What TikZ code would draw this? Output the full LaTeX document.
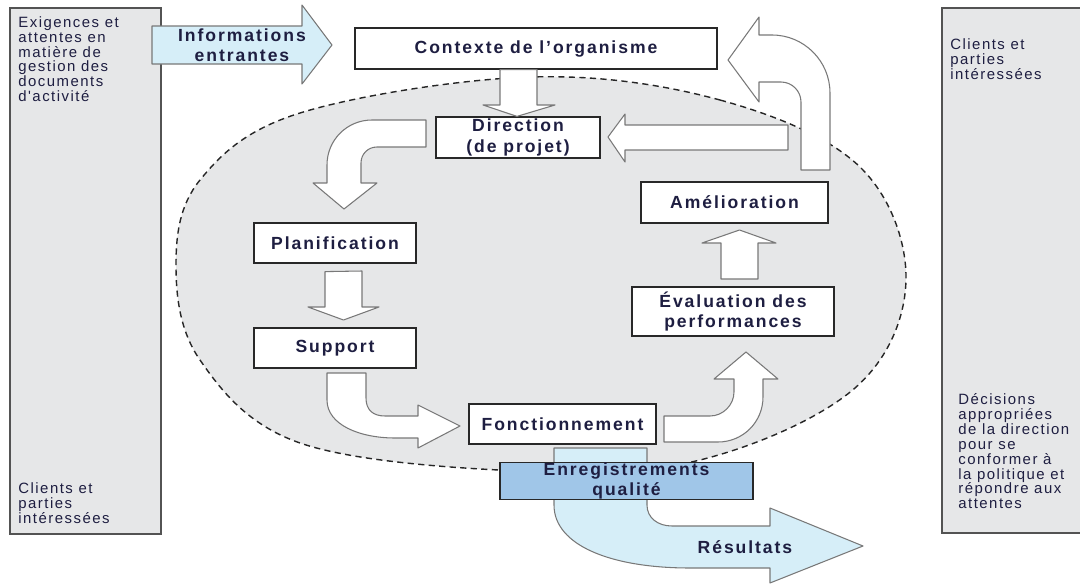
\documentclass[tikz,border=0pt]{standalone}
\usepackage{fontspec}
\setmainfont{Liberation Sans}
\newfontfamily\lblfont[LetterSpace=11]{Liberation Sans}
\newfontfamily\sidefont[LetterSpace=10]{Liberation Sans}
\usetikzlibrary{arrows.meta}
\definecolor{ink}{RGB}{30,30,65}
\definecolor{boxline}{RGB}{40,40,40}
\definecolor{arrline}{RGB}{120,120,120}
\definecolor{zone}{RGB}{230,231,232}
\definecolor{paleblue}{RGB}{214,238,248}
\definecolor{recblue}{RGB}{160,198,232}

\begin{document}
\begin{tikzpicture}[
    x=0.02cm, y=-0.02cm,
    box/.style={draw=boxline, fill=white, line width=0.7pt, text=ink, align=center, inner sep=0pt,
      font=\lblfont\bfseries\fontsize{10}{11.5}\selectfont},
    side/.style={draw=boxline!80, fill=zone, line width=0.8pt, inner sep=0pt},
    sidetext/.style={text=ink, align=left, inner sep=0pt, anchor=north west,
      font=\sidefont\fontsize{8.5}{8.5}\selectfont},
    blk/.style={draw=arrline, fill=white, line width=0.6pt, line join=round},
    flow/.style={draw=arrline, fill=paleblue, line width=0.6pt, line join=round},
    lbl/.style={text=ink, inner sep=0pt, font=\lblfont\bfseries\fontsize{10}{11.5}\selectfont, align=center},
  ]
  \useasboundingbox (0,0) rectangle (1080,585);
  \clip (0,0) rectangle (1080,585);

  % side panels
  \node[side, minimum width=3.02cm, minimum height=10.52cm] (lbox) at (85.5,271) {};
  \node[side, minimum width=2.96cm, minimum height=10.5cm] (rbox) at (1016,270.5) {};
  \node[sidetext] (ltop) at (18,16) {Exigences et\\attentes en\\matière de\\gestion des\\documents\\d'activité};
  \node[sidetext] (lbot) at (18,482) {Clients et\\parties\\intéressées};
  \node[sidetext] (rtop) at (950,38) {Clients et\\parties\\intéressées};
  \node[sidetext] (rbot) at (958,393) {Décisions\\appropriées\\de la direction\\pour se\\conformer à\\la politique et\\répondre aux\\attentes};

  % dashed zone
  \draw[fill=zone, draw=black!85, line width=0.8pt, dash pattern=on 3.5pt off 2.5pt]
    plot[smooth cycle, tension=0.6] coordinates {(530,77) (720,100) (860,167) (906,280) (855,388)
      (700,460) (520,471) (300,443) (200,360) (176,265) (200,180) (300,113)};

  % process boxes
  \node[box, minimum width=7.24cm, minimum height=0.82cm] (ctx) at (536,48.5) {Contexte de l’organisme};
  \node[box, minimum width=3.28cm, minimum height=0.82cm] (dir) at (518,137.5) {Direction\\(de projet)};
  \node[box, minimum width=3.24cm, minimum height=0.8cm] (plan) at (335,243) {Planification};
  \node[box, minimum width=3.24cm, minimum height=0.8cm] (supp) at (335,348) {Support};
  \node[box, minimum width=3.74cm, minimum height=0.8cm] (fonc) at (562.5,424) {Fonctionnement};
  \node[box, minimum width=4.04cm, minimum height=0.98cm] (eval) at (733,311.5) {Évaluation des\\performances};
  \node[box, minimum width=3.74cm, minimum height=0.82cm] (amel) at (734.5,202.5) {Amélioration};

  % block arrows
  \draw[blk] (500,0 |- ctx.south) -- (500,105) -- (483,105) -- (517,0 |- dir.north) -- (555,105)
    -- (537,105) -- (537,0 |- ctx.south) -- cycle;
  \draw[blk] (788,125) -- (625,125) -- (625,114) -- (608,137) -- (625,162) -- (625,150) -- (788,150) -- cycle;
  \draw[blk] (426,120) -- (372,120) .. controls (347,120) and (327,140) .. (327,165) -- (327,183)
    -- (313,183) -- (344,209) -- (377,183) -- (361,183) -- (361,163)
    .. controls (361,154) and (368,147) .. (377,147) -- (426,147) -- cycle;
  \draw[blk] (325,0 |- plan.south) ++(0,8) -- (325,307) -- (308,307) -- (343.5,320) -- (379,307)
    -- (362,307) -- (362,271) -- cycle;
  \draw[blk] (327,373) -- (327,400) .. controls (327,425) and (360,438) .. (395,438) -- (418,438)
    -- (418,448) -- (460,426) -- (418,405) -- (418,416) -- (385,416)
    .. controls (373,416) and (366,410) .. (366,398) -- (366,373) -- cycle;
  \draw[blk] (664,416) -- (710,416) .. controls (723,416) and (734,405) .. (734,392) -- (734,379)
    -- (714,379) -- (746,352) -- (778,379) -- (763,379) -- (763,397)
    .. controls (763,422) and (743,442) .. (718,442) -- (664,442) -- cycle;
  \draw[blk] (721,279) -- (721,243) -- (702,243) -- (739.5,230) -- (776,243) -- (758,243)
    -- (758,279) -- cycle;
  \draw[blk] (801,170) -- (801,102) .. controls (801,91) and (792,82) .. (781,82) -- (759,82)
    -- (759,102) -- (728,60) -- (759,17) -- (759,35) -- (772,35)
    .. controls (804,35) and (830,61) .. (830,93) -- (830,170) -- cycle;

  % outputs
  \draw[flow] (554,448) -- (554,505) .. controls (554,545) and (610,568) .. (690,568) -- (770,568)
    -- (770,583) -- (863,546) -- (770,508) -- (770,526) -- (672,526)
    .. controls (658,526) and (647,518) .. (647,505) -- (647,448) -- cycle;
  \node[lbl] (res) at (745,547) {Résultats};
  \node[box, fill=recblue, minimum width=5.06cm, minimum height=0.72cm] (enr) at (626.5,481)
    {Enregistrements\\qualité};

  % inputs
  \draw[flow] (152,26) -- (302,26) -- (302,5) -- (332,45) -- (302,84) -- (302,64) -- (152,64) -- cycle;
  \node[lbl] (info) at (242,45) {Informations\\entrantes};
\end{tikzpicture}
\end{document}
